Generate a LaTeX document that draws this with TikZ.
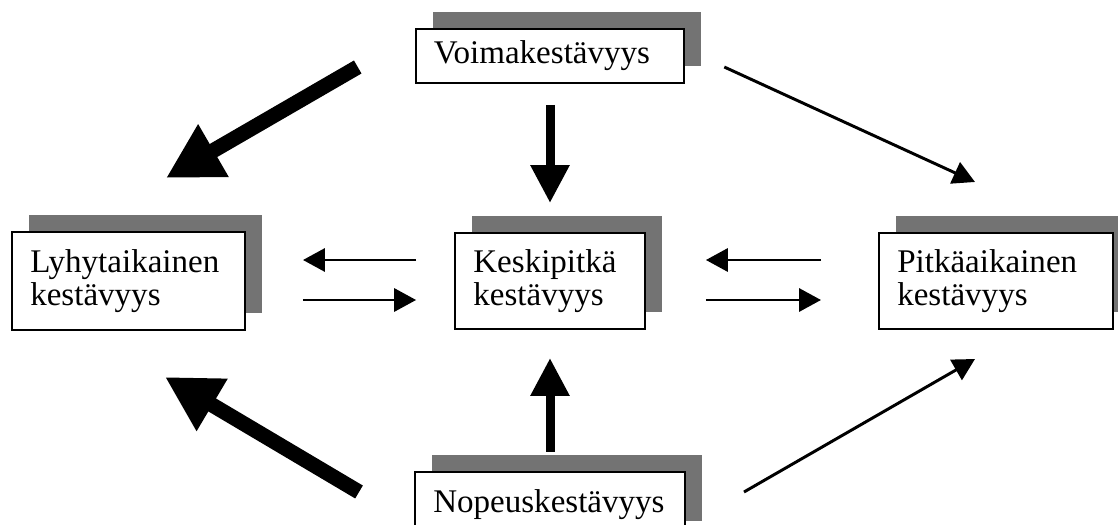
\documentclass[tikz,border=0pt]{standalone}
\usepackage{fontspec}
\setmainfont{Liberation Serif}
\usetikzlibrary{arrows.meta,calc,shadows}

\begin{document}
\begin{tikzpicture}[x=0.025cm,y=-0.025cm,
  box/.style={draw,line width=1.4pt,fill=white,align=left,inner xsep=13pt,inner ysep=2pt,
    font=\fontsize{23.5}{24}\selectfont,
    general shadow={fill=black!55,shadow xshift=12pt,shadow yshift=12pt}},
  smallarrow/.style={line width=2.1pt,-{Triangle[length=15.6pt,width=16.4pt]}},
  midarrow/.style={line width=6.4pt,-{Triangle[length=27pt,width=26.3pt]}},
  bigarrow/.style={line width=10.7pt,-{Triangle[length=39pt,width=40.5pt]}}]
\useasboundingbox (0,0) rectangle (1118,525);
%boxes
\node[box,text width=165pt,minimum height=38.4pt] (voima) at (550,56) {Voimakestävyys};
\node[box,text width=139.7pt,minimum height=69.7pt] (lyhy) at (128.5,281) {Lyhytaikainen\\kestävyys};
\node[box,text width=109pt,minimum height=68.3pt] (kesk) at (550,281) {Keskipitkä\\kestävyys};
\node[box,text width=140.4pt,minimum height=68.3pt] (pitka) at (996,281) {Pitkäaikainen\\kestävyys};
\node[box,text width=166pt,minimum height=47pt] (nopeus) at (550,505) {Nopeuskestävyys};
%from top
\draw[bigarrow] ($(voima.west)+(-57,11)$) -- ($(lyhy.north)+(37.5,-53)$);
\draw[midarrow] ($(voima.south)+(0,21)$) -- ($(kesk.north)+(0,-29)$);
\draw[smallarrow] ($(voima.east)+(39,11)$) -- ($(pitka.north)+(-21,-50)$);
%from bottom
\draw[bigarrow] ($(nopeus.west)+(-55,-13)$) -- ($(lyhy.south)+(36.5,46)$);
\draw[midarrow] ($(nopeus.north)+(0,-19)$) -- ($(kesk.south)+(0,28)$);
\draw[smallarrow] ($(nopeus.east)+(58,-13)$) -- ($(pitka.south)+(-21,29)$);
%between
\draw[smallarrow] ($(kesk.west)+(-38,-21)$) -- ($(lyhy.east)+(57,-21)$);
\draw[smallarrow] ($(lyhy.east)+(57,19)$) -- ($(kesk.west)+(-38,19)$);
\draw[smallarrow] ($(pitka.west)+(-57,-21)$) -- ($(kesk.east)+(60,-21)$);
\draw[smallarrow] ($(kesk.east)+(60,19)$) -- ($(pitka.west)+(-57,19)$);
\end{tikzpicture}
\end{document}
